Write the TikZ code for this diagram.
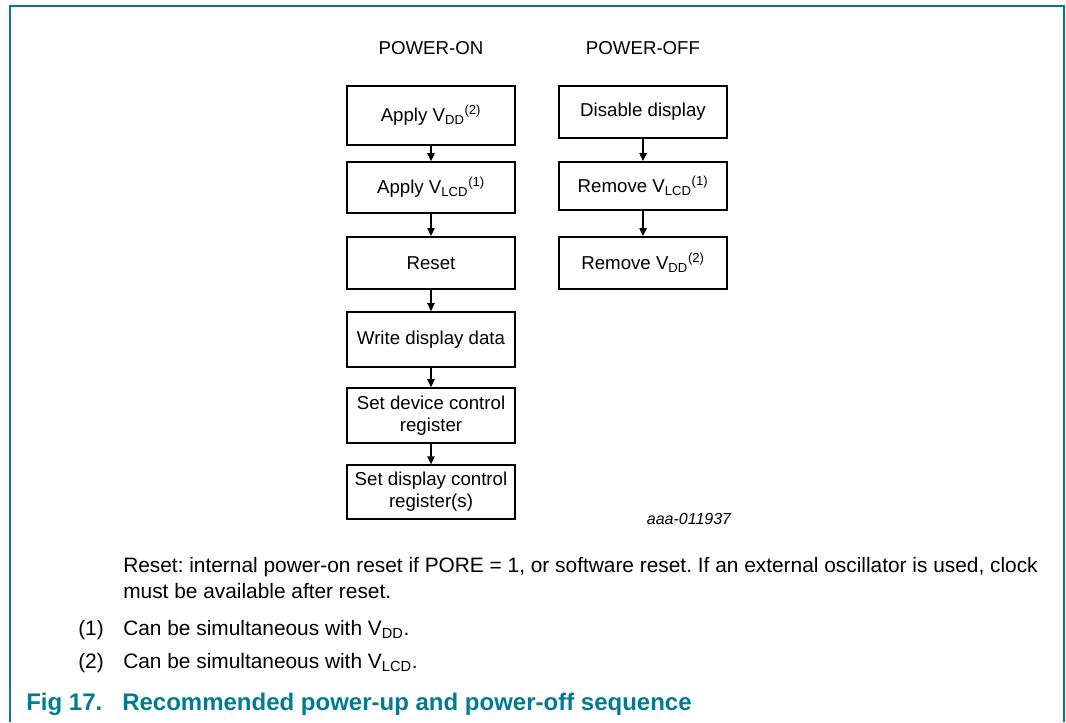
\documentclass[tikz,border=0pt]{standalone}
\usepackage{fontspec}
\setmainfont{Liberation Sans}
\frenchspacing
\usetikzlibrary{arrows.meta}
\definecolor{nxpteal}{RGB}{0,124,146}
\tikzset{
	blk/.style={draw, line width=1.5pt, minimum width=126pt, inner sep=1pt, align=center, font=\fontsize{14}{16.5}\selectfont},
	head/.style={anchor=base, font=\fontsize{14}{16.5}\selectfont},
	note/.style={anchor=base west, inner sep=0pt, font=\fontsize{15.65}{18}\selectfont},
	figcap/.style={anchor=base west, inner sep=0pt, text=nxpteal, font=\fontsize{18}{21}\selectfont\bfseries},
	flow/.style={-{Triangle[length=6pt,width=5.5pt]}, line width=1pt}
}
\begin{document}
\begin{tikzpicture}[x=0.75pt,y=-0.75pt]
	\useasboundingbox (0,0) rectangle (1066,722);
	% frame, open at the bottom
	\draw[nxpteal, line width=1.5pt] (10,722)--(10,6)--(1064,6)--(1064,722);
	% column titles
	\node[head](hon) at (431,54) {POWER-ON};
	\node[head](hoff) at (643,54) {POWER-OFF};
	% power-on sequence
	\node[blk, minimum height=44pt](pon1) at (431,115.5) {Apply V\textsubscript{DD}\textsuperscript{(2)}};
	\node[blk, minimum height=38pt](pon2) at (431,187.5) {Apply V\textsubscript{LCD}\textsuperscript{(1)}};
	\node[blk, minimum height=39pt](pon3) at (431,263) {Reset};
	\node[blk, minimum height=41pt](pon4) at (431,339.5) {Write display data};
	\node[blk, minimum height=41pt](pon5) at (431,415.5) {Set device control\\register};
	\node[blk, minimum height=40pt](pon6) at (431,492) {Set display control\\register(s)};
	% power-off sequence
	\node[blk, minimum height=39pt](poff1) at (643,112) {Disable display};
	\node[blk, minimum height=36pt](poff2) at (643,186) {Remove V\textsubscript{LCD}\textsuperscript{(1)}};
	\node[blk, minimum height=39pt](poff3) at (643,263) {Remove V\textsubscript{DD}\textsuperscript{(2)}};
	\foreach \a/\b in {pon1/pon2,pon2/pon3,pon3/pon4,pon4/pon5,pon5/pon6,poff1/poff2,poff2/poff3}
		\draw[flow] (\a.south) -- (\b.north);
	\node[anchor=base, font=\fontsize{12}{14}\selectfont\itshape](code) at (689,524) {aaa-011937};
	% notes
	\node[note](n0) at (123,572) {Reset: internal power-on reset if PORE = 1, or software reset. If an external oscillator is used, clock};
	\node[note](n0b) at (123,598) {must be available after reset.};
	\node[note](k1) at (78,635) {(1)};
	\node[note](n1) at (123,635) {Can be simultaneous with V\textsubscript{DD}.};
	\node[note](k2) at (78,668) {(2)};
	\node[note](n2) at (123,668) {Can be simultaneous with V\textsubscript{LCD}.};
	% caption
	\node[figcap](fig) at (26,710) {Fig 17.};
	\node[figcap](title) at (122,710) {Recommended power-up and power-off sequence};
\end{tikzpicture}
\end{document}
